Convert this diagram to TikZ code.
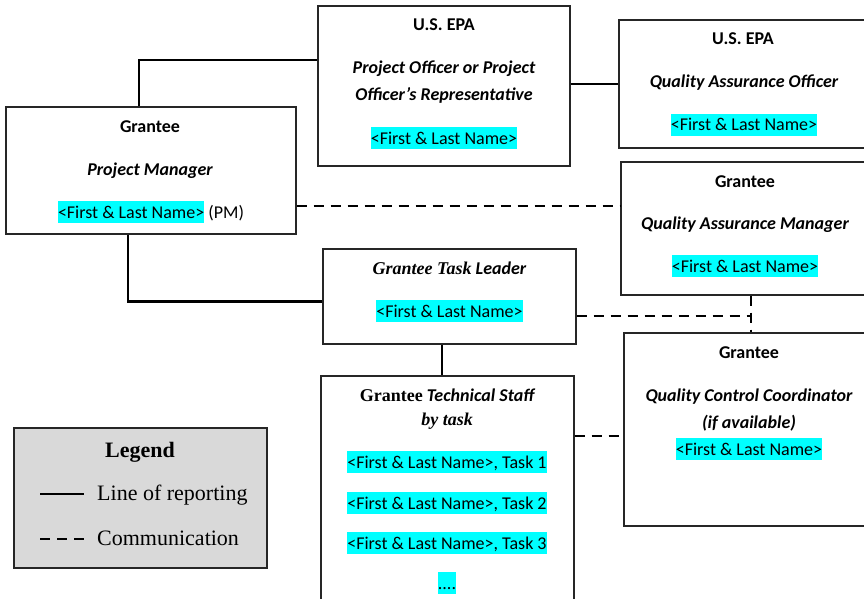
\documentclass[tikz,border=0pt]{standalone}
\usepackage{fontspec}
\setmainfont{Carlito}
\newfontfamily\tnr{Liberation Serif}
\definecolor{hlcyan}{HTML}{00FFFF}
\definecolor{legendgray}{HTML}{D9D9D9}
% highlighted placeholder text
\newcommand{\hlname}[1]{{\setlength{\fboxsep}{0pt}\colorbox{hlcyan}{\rule[-0.28em]{0pt}{1.22em}#1}}}
\begin{document}
\begin{tikzpicture}[x=1pt,y=-1pt,
  box/.style={draw=black!85, line width=1.2pt, rectangle, inner sep=0pt, fill=white},
  txt/.style={anchor=base, inner sep=0pt, font=\fontsize{18}{21}\selectfont},
  legtxt/.style={anchor=base, inner sep=0pt, font=\tnr\fontsize{22}{26}\selectfont},
  rep/.style={line width=2.4pt},
  comm/.style={line width=2.4pt, dash pattern=on 10pt off 7pt}]
\clip (0,0) rectangle (864,599);

% boxes
\node[box, minimum width=290pt, minimum height=127pt] (pm)  at (151,170.5) {};
\node[box, minimum width=252pt, minimum height=160pt] (po)  at (444,86) {};
\node[box, minimum width=251pt, minimum height=128pt] (qao) at (744.5,84) {};
\node[box, minimum width=249pt, minimum height=133pt] (qam) at (745.5,228.5) {};
\node[box, minimum width=253pt, minimum height=95pt]  (tl)  at (449.5,296.5) {};
\node[box, minimum width=253pt, minimum height=234pt] (ts)  at (447.5,493) {};
\node[box, minimum width=246pt, minimum height=193pt] (qcc) at (747,429.5) {};
\node[box, fill=legendgray, minimum width=253pt, minimum height=140pt] (leg) at (140.5,498) {};

% project manager
\node[txt] (pm1) at (150,132) {\bfseries Grantee};
\node[txt] (pm2) at (150,175) {\bfseries\itshape Project Manager};
\node[txt] (pm3) at (151,218) {\hlname{<First \& Last Name>} (PM)};

% project officer
\node[txt] (po1) at (444,31) {\bfseries U.S. EPA};
\node[txt] (po2) at (444,74) {\bfseries\itshape Project Officer or Project};
\node[txt] (po3) at (444,101) {\bfseries\itshape Officer’s Representative};
\node[txt] (po4) at (444,144) {\hlname{<First \& Last Name>}};

% quality assurance officer
\node[txt] (qao1) at (743,45) {\bfseries U.S. EPA};
\node[txt] (qao2) at (744,88) {\bfseries\itshape Quality Assurance Officer};
\node[txt] (qao3) at (744,131) {\hlname{<First \& Last Name>}};

% quality assurance manager
\node[txt] (qam1) at (745,187) {\bfseries Grantee};
\node[txt] (qam2) at (745,229) {\bfseries\itshape Quality Assurance Manager};
\node[txt] (qam3) at (745,272) {\hlname{<First \& Last Name>}};

% task leader
\node[txt] (tl1) at (449.5,274) {{\tnr\bfseries\itshape Grantee Task} {\bfseries\itshape Leader}};
\node[txt] (tl2) at (449.5,317) {\hlname{<First \& Last Name>}};

% technical staff
\node[txt] (ts1) at (447,401) {{\tnr\bfseries Grantee} {\bfseries\itshape Technical Staff}};
\node[txt] (ts2) at (447,425) {\tnr\bfseries\itshape by task};
\node[txt] (ts3) at (447,468) {\hlname{<First \& Last Name>, Task 1}};
\node[txt] (ts4) at (447,509) {\hlname{<First \& Last Name>, Task 2}};
\node[txt] (ts5) at (447,549) {\hlname{<First \& Last Name>, Task 3}};
\node[txt] (ts6) at (447,589) {\hlname{....}};

% quality control coordinator
\node[txt] (qcc1) at (749,358) {\bfseries Grantee};
\node[txt] (qcc2) at (749,401) {\bfseries\itshape Quality Control Coordinator};
\node[txt] (qcc3) at (749,428) {\bfseries\itshape (if available)};
\node[txt] (qcc4) at (749,455) {\hlname{<First \& Last Name>}};

% reporting lines
\draw[rep] ([xshift=-12pt]pm.north) |- ([yshift=26pt]po.west);
\draw[rep] (po.east |- qao.west) -- (qao.west);
\draw[rep] ([xshift=-23pt]pm.south) |- ([yshift=-5pt]tl.west);
\coordinate (tlb) at ([xshift=-7.5pt]tl.south);
\draw[rep] (tlb) -- (tlb |- ts.north);

% communication lines
\coordinate (pme) at ([yshift=-35.5pt]pm.east);
\draw[comm] (pme) -- (pme -| qam.west);
\coordinate (tle) at ([yshift=-19.5pt]tl.east);
\coordinate (qams) at ([xshift=5.5pt]qam.south);
\draw[comm] (tle) -- (tle -| qams);
\draw[comm] (qams) -- (qams |- qcc.north);
\coordinate (tse) at ([yshift=57pt]ts.east);
\draw[comm] (tse) -- (tse -| qcc.west);

% legend
\node[legtxt, font=\tnr\bfseries\fontsize{22}{26}\selectfont] (legt) at (140,457) {Legend};
\node[legtxt, anchor=base west] (legr) at (97,500) {Line of reporting};
\node[legtxt, anchor=base west] (legc) at (97,545) {Communication};
\coordinate (lr1) at (40,494);
\coordinate (lr2) at (84,494);
\coordinate (lc1) at (40,539);
\coordinate (lc2) at (84,539);
\draw[rep] (lr1) -- (lr2);
\draw[comm] (lc1) -- (lc2);
\end{tikzpicture}
\end{document}
